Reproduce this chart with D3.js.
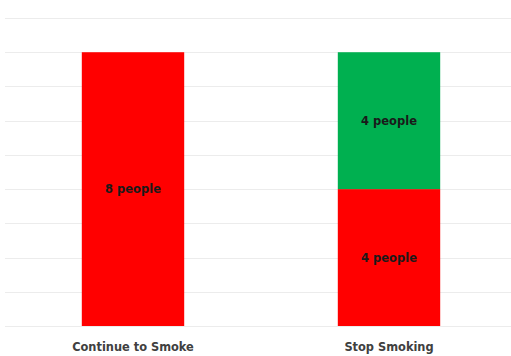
<!DOCTYPE html>
<html>
<head>
<meta charset="utf-8">
<script src="https://cdn.jsdelivr.net/npm/d3@7"></script>
<style>
  html, body { margin: 0; padding: 0; background: #ffffff; }
  svg { display: block; }
</style>
</head>
<body>
<svg id="chart" width="511" height="356"></svg>
<script>
// ---- data ----
const categories = ["Continue to Smoke", "Stop Smoking"];
const continuingValues = [8, 4];   // red segment (bottom)
const stoppedValues = [0, 4];      // green segment (top)
const segmentLabels = [["8 people", null], ["4 people", "4 people"]];
const yTicks = [0, 1, 2, 3, 4, 5, 6, 7, 8, 9];

// ---- layout ----
const plot = { left: 5, right: 517, top: 18, bottom: 326 };
const svg = d3.select("#chart");

const x = d3.scaleBand()
  .domain(categories)
  .range([plot.left, plot.right])
  .paddingInner(0.6)
  .paddingOuter(0.3);

const y = d3.scaleLinear()
  .domain([0, 9])
  .range([plot.bottom, plot.top]);

// gridlines
svg.append("g")
  .selectAll("line")
  .data(yTicks)
  .join("line")
  .attr("x1", plot.left)
  .attr("x2", plot.right)
  .attr("y1", d => Math.round(y(d)) + 0.5)
  .attr("y2", d => Math.round(y(d)) + 0.5)
  .attr("stroke", "#ececec")
  .attr("stroke-width", 1.2);

// stacked data
const series = categories.map((c, i) => ({
  cat: c,
  segs: [
    { y0: 0, y1: continuingValues[i], color: "#ff0000", label: segmentLabels[i][0] },
    { y0: continuingValues[i], y1: continuingValues[i] + stoppedValues[i], color: "#00b050", label: segmentLabels[i][1] }
  ].filter(s => s.y1 > s.y0)
}));

const g = svg.append("g");
series.forEach(s => {
  g.selectAll(null)
    .data(s.segs)
    .join("rect")
    .attr("x", x(s.cat))
    .attr("width", x.bandwidth())
    .attr("y", d => y(d.y1))
    .attr("height", d => y(d.y0) - y(d.y1))
    .attr("fill", d => d.color);

  g.selectAll(null)
    .data(s.segs.filter(d => d.label))
    .join("text")
    .attr("x", x(s.cat) + x.bandwidth() / 2)
    .attr("y", d => (y(d.y0) + y(d.y1)) / 2)
    .attr("text-anchor", "middle")
    .attr("dominant-baseline", "central")
    .attr("font-family", "DejaVu Sans, sans-serif")
    .attr("font-weight", "bold")
    .attr("font-size", 11.5)
    .attr("fill", "#1a1a1a")
    .text(d => d.label);
});

// x axis labels
const xAxis = d3.axisBottom(x).tickSize(0).tickPadding(0);
const ax = svg.append("g")
  .attr("transform", `translate(0, ${plot.bottom})`)
  .call(xAxis);
ax.select(".domain").remove();
ax.selectAll("text")
  .attr("y", 21)
  .attr("dy", "0.35em")
  .attr("font-family", "DejaVu Sans, sans-serif")
  .attr("font-weight", "bold")
  .attr("font-size", 11.4)
  .attr("fill", "#404040");
</script>
</body>
</html>
